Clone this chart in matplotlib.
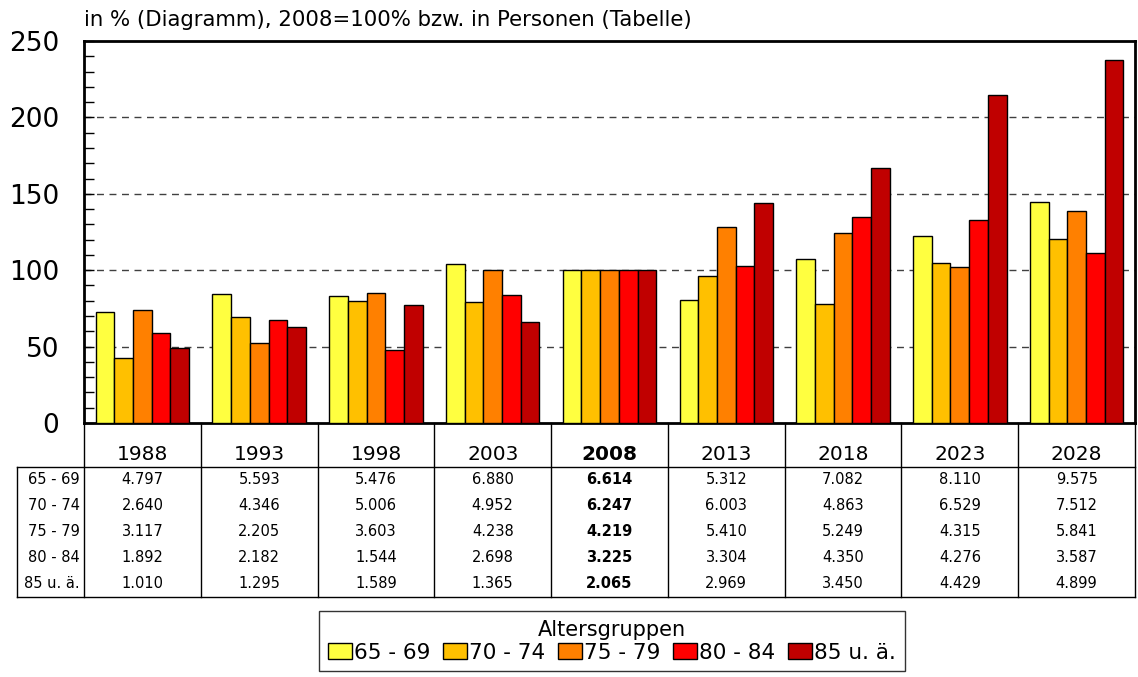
import matplotlib
matplotlib.use('Agg')
import matplotlib.pyplot as plt
from matplotlib.patches import Patch
import numpy as np

plt.rcParams['font.family'] = ['DejaVu Sans']

# Daten (Personen)
jahre = ['1988', '1993', '1998', '2003', '2008', '2013', '2018', '2023', '2028']
gruppen = ['65 - 69', '70 - 74', '75 - 79', '80 - 84', '85 u. ä.']
farben = ['#FFFF40', '#FFC000', '#FF8000', '#FF0000', '#C00000']

p65_69 = [4797, 5593, 5476, 6880, 6614, 5312, 7082, 8110, 9575]
p70_74 = [2640, 4346, 5006, 4952, 6247, 6003, 4863, 6529, 7512]
p75_79 = [3117, 2205, 3603, 4238, 4219, 5410, 5249, 4315, 5841]
p80_84 = [1892, 2182, 1544, 2698, 3225, 3304, 4350, 4276, 3587]
p85 = [1010, 1295, 1589, 1365, 2065, 2969, 3450, 4429, 4899]
basisjahr = '2008'

reihen = [p65_69, p70_74, p75_79, p80_84, p85]

W, H = 1138, 677
fig = plt.figure(figsize=(W / 100, H / 100), dpi=100)

# Diagrammbereich in Pixeln
ax_l, ax_r, ax_t, ax_b = 84, 1135, 41, 423
ax = fig.add_axes([ax_l / W, 1 - ax_b / H, (ax_r - ax_l) / W, (ax_b - ax_t) / H])

n = len(jahre)
x = np.arange(n)
bw = 0.16
ib = jahre.index(basisjahr)
for i, (reihe, farbe) in enumerate(zip(reihen, farben)):
    werte = np.array(reihe, dtype=float)
    prozent = werte / werte[ib] * 100
    ax.bar(x + (i - 2) * bw, prozent, width=bw, color=farbe,
           edgecolor='black', linewidth=1, zorder=3)

ax.set_xlim(-0.5, n - 0.5)
ax.set_ylim(0, 250)
ax.set_xticks([])
ax.set_yticks(np.arange(0, 251, 50))
ax.set_yticks(np.arange(0, 251, 10), minor=True)
ax.tick_params(axis='y', which='both', direction='in', length=7, width=1,
               labelsize=19, pad=18)
for y in [50, 100, 150, 200]:
    ax.axhline(y, color='#404040', linestyle=(0, (5, 4)), linewidth=1, zorder=1)
for s in ax.spines.values():
    s.set_linewidth(2)

fig.text(ax_l / W, 1 - 20 / H, 'in % (Diagramm), 2008=100% bzw. in Personen (Tabelle)',
         ha='left', va='center', fontsize=15.3)

# Tabelle unterhalb
tb_l, tb_b = 17, 597
tab = fig.add_axes([tb_l / W, 1 - tb_b / H, (ax_r - tb_l) / W, (tb_b - ax_b) / H])
gw = (ax_r - ax_l) / n
x_links = -0.5 - (ax_l - tb_l) / gw
tab.set_xlim(x_links, n - 0.5)
tab.set_ylim(tb_b - ax_b, 0)
tab.axis('off')

hoehe = tb_b - ax_b
kopf = 44
for k in range(n + 1):
    tab.plot([k - 0.5, k - 0.5], [0, hoehe], color='black', lw=1, clip_on=False)
tab.plot([x_links, x_links], [kopf, hoehe], color='black', lw=1, clip_on=False)
tab.plot([x_links, n - 0.5], [kopf, kopf], color='black', lw=1, clip_on=False)
tab.plot([x_links, n - 0.5], [hoehe, hoehe], color='black', lw=1, clip_on=False)

for j, jahr in enumerate(jahre):
    tab.text(j, 31, jahr, ha='center', va='center', fontsize=14.5,
             fontweight='bold' if jahr == basisjahr else 'normal')

zeilen_y = [57, 83, 109, 134, 160]
for r, (name, reihe) in enumerate(zip(gruppen, reihen)):
    tab.text(-0.5 - 4 / gw, zeilen_y[r], name, ha='right', va='center', fontsize=10.5)
    for j, wert in enumerate(reihe):
        txt = f'{wert:,}'.replace(',', '.')
        tab.text(j, zeilen_y[r], txt, ha='center', va='center', fontsize=10.5,
                 fontweight='bold' if jahre[j] == basisjahr else 'normal')

# Legende
handles = [Patch(facecolor=f, edgecolor='black', linewidth=1) for f in farben]
leg = fig.legend(handles, gruppen, title='Altersgruppen', ncol=5,
                 loc='upper center', bbox_to_anchor=(612 / W, 1 - 611 / H),
                 fontsize=15.5, title_fontsize=15, frameon=True, fancybox=False,
                 edgecolor='black', handlelength=1.1, handleheight=0.75,
                 handletextpad=0.1, columnspacing=0.6, borderpad=0.4,
                 labelspacing=0.15, borderaxespad=0)
leg.get_frame().set_linewidth(1)

fig.savefig('out.png', dpi=100)
